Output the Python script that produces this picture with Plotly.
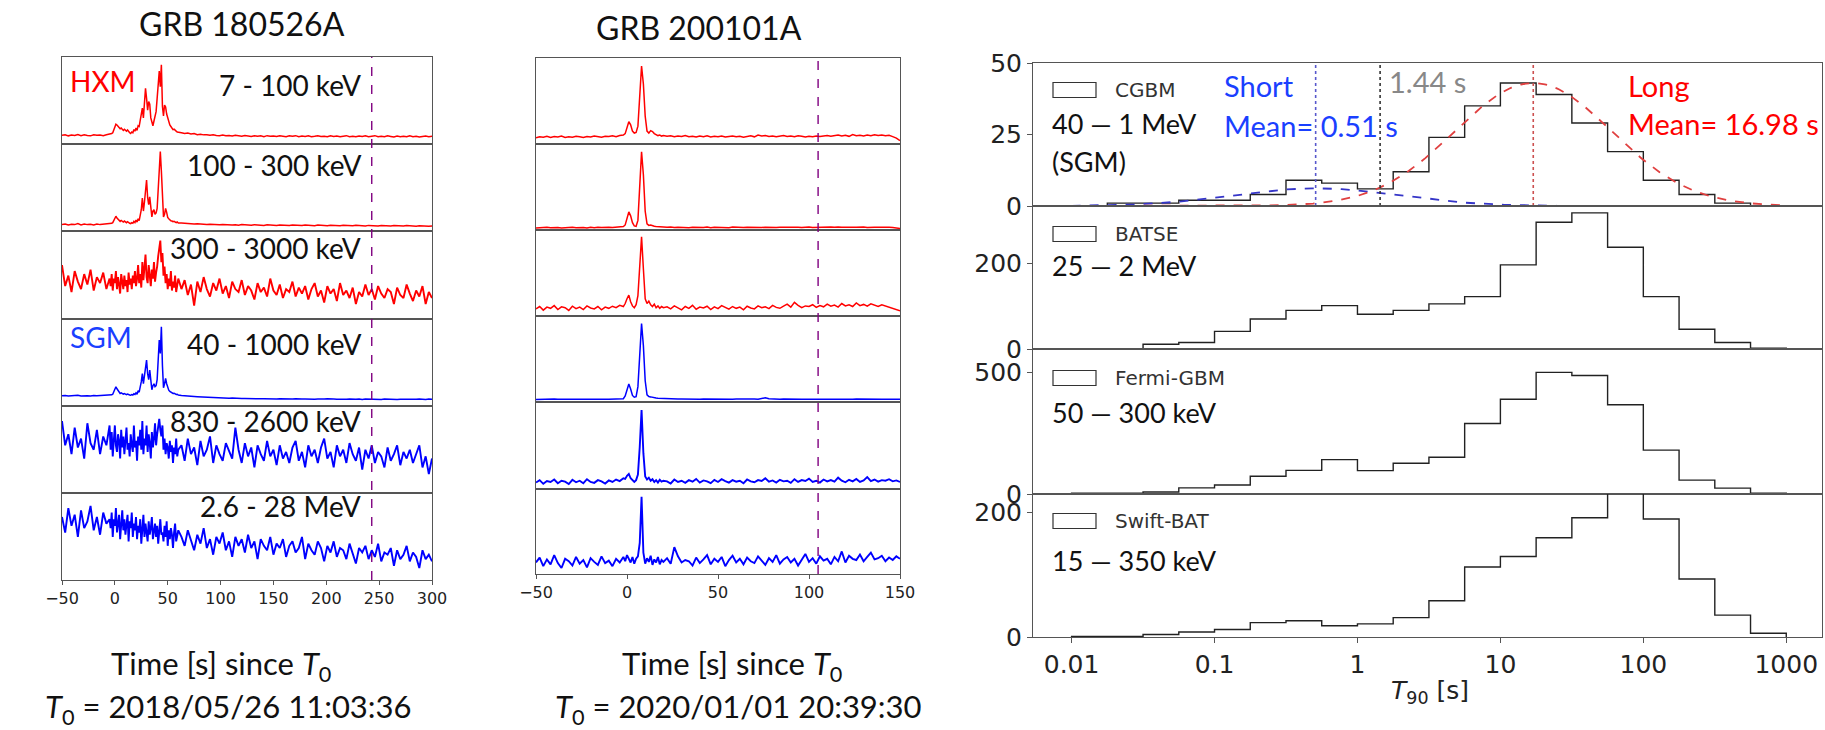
import numpy as np
import plotly.graph_objects as go

W, H = 1825, 730

# ---------------- time grids (s since T0) ----------------
T_LEFT = list(range(-50, -4, 3)) + list(range(-4, 61)) + list(range(63, 301, 3))
T_MID = list(range(-50, -1, 2)) + list(range(-1, 21)) + list(range(22, 151, 2))

# ---------------- GRB 180526A light curves ----------------
HXM_7_100 = ([455,470,440,460,450,475,445,465,450,440,470,455,460,445,470,480] +
    [480,500,520,600,700,740,720,680,650,620,
     640,600,580,610,570,560,590,540,520,500,
     540,520,600,560,640,580,700,680,850,1000,
     1150,900,1300,1660,1400,1100,1320,1250,900,760,
     700,820,1000,1060,1400,1900,2100,1700,2260,1200,
     950,1230,1180,1000,900,800,720,680,640,600,
     610,570,560,540,530] +
    [520,500,510,490,500,470,480,465,470,455,
     470,450,445,460,440,450,435,455,440,430,
     450,440,425,445,430,440,420,445,430,435,
     425,445,430,420,440,430,445,420,435,425,
     440,420,430,445,425,430,415,440,425,435,
     420,430,445,420,430,415,435,425,440,420,
     430,445,415,430,420,440,425,410,435,420,
     430,415,440,420,430,410,425,435,420,430])
HXM_100_300 = ([170,180,165,175,170,185,165,180,170,175,165,180,170,175,185,180] +
    [185,190,200,240,290,300,270,250,230,220,
     235,215,210,225,205,200,215,195,190,185,
     200,190,220,200,240,210,260,230,300,400,
     580,380,520,700,860,590,480,600,420,290,
     380,400,330,350,420,700,1100,1300,1000,500,
     290,330,420,360,280,260,240,230,225,215,
     220,205,200,210,195] +
    [195,190,185,188,180,183,176,178,172,176,
     170,174,168,172,166,170,165,168,162,170,
     164,166,160,168,162,165,158,166,160,163,
     157,165,159,162,156,164,158,161,155,163,
     157,160,154,162,156,159,153,161,155,158,
     152,160,154,157,151,159,153,156,150,158,
     152,155,149,157,151,154,148,156,150,153,
     147,155,149,152,146,154,148,151,145,150])
HXM_300_3000 = ([230,160,195,140,210,175,150,200,165,215,145,190,170,205,150,185] +
    [160,200,145,185,170,210,150,190,165,135,
     200,175,150,195,160,180,140,205,165,185,
     150,195,170,210,160,185,230,170,200,155,
     240,180,215,265,190,170,230,200,160,215,
     185,240,175,205,225,260,300,312,240,270,
     195,225,170,200,150,185,160,210,145,175,
     155,195,140,170,185] +
    [150,180,130,165,95,175,140,190,150,125,
     170,145,185,135,160,120,175,150,140,180,
     130,160,145,115,170,140,155,125,185,145,
     130,165,120,150,140,175,125,155,135,160,
     115,150,170,125,145,105,160,135,150,110,
     170,130,145,120,155,100,140,125,165,130,
     150,115,160,135,120,150,140,100,155,130,
     120,165,135,110,145,125,160,100,140,120])
SGM_40_1000 = ([1100,1120,1090,1110,1100,1130,1095,1115,1105,1090,1120,1100,1110,1095,1120,1130] +
    [1130,1150,1180,1300,1500,1550,1450,1350,1280,1220,
     1250,1200,1180,1210,1170,1160,1190,1150,1140,1130,
     1160,1140,1200,1170,1250,1180,1350,1280,1500,1800,
     2200,1700,2100,2500,2870,2200,1900,2380,1800,1400,
     1600,1700,1550,1600,1900,3300,3870,3200,4520,2600,
     1500,1700,1960,1700,1460,1380,1320,1280,1250,1220,
     1230,1190,1170,1180,1140] +
    [1120,1100,1090,1080,1070,1060,1050,1045,1035,1030,
     1020,1015,1005,1000,995,985,990,975,980,965,
     970,960,965,955,960,950,955,945,960,950,
     940,955,945,935,950,940,955,935,945,940,
     930,950,935,945,925,940,950,930,945,935,
     925,940,930,945,925,935,945,920,940,930,
     945,925,935,920,940,930,925,945,920,935,
     930,940,920,935,925,945,930,920,940,935])
SGM_830_2600 = ([205,150,175,130,190,145,165,120,200,155,140,185,130,170,150,195] +
    [140,180,125,165,195,150,135,175,160,120,
     185,145,170,130,160,190,140,155,125,175,
     150,135,195,145,160,115,170,150,185,140,
     205,130,165,150,195,135,175,155,120,180,
     145,165,200,150,175,190,210,185,170,195,
     140,165,130,155,145,120,160,135,150,110,
     145,130,165,125,140] +
    [150,115,165,130,145,105,160,125,140,170,
     110,150,130,115,155,135,120,190,140,110,
     155,125,145,100,150,130,115,160,125,140,
     105,150,120,135,110,145,160,115,135,100,
     150,125,140,110,145,165,120,135,100,150,
     125,140,110,155,130,115,145,95,140,120,
     150,110,135,125,100,145,115,130,150,105,
     135,120,140,110,130,150,100,125,85,120])
SGM_2600_28000 = ([195,160,215,175,200,150,210,170,185,220,165,195,155,205,180,190] +
    [170,205,150,190,175,215,160,185,200,145,
     180,210,165,190,155,175,200,140,185,170,
     205,150,180,165,195,145,175,160,190,135,
     170,200,150,180,160,140,185,155,170,195,
     145,165,180,150,175,135,170,190,155,160,
     140,175,150,185,130,165,145,170,155,125,
     160,180,140,150,165] +
    [150,130,165,140,120,155,135,170,125,145,
     110,150,135,160,120,140,105,150,130,145,
     115,155,125,140,100,145,130,120,150,110,
     135,125,145,105,130,140,115,125,150,100,
     135,120,110,140,125,95,130,115,140,105,
     125,120,100,135,110,90,125,115,130,100,
     120,105,135,95,115,110,125,85,120,100,
     110,130,95,115,105,80,120,100,110,95])

# ---------------- GRB 200101A light curves ----------------
M_HXM_1 = ([430,470,450,490,440,480,460,500,445,475,455,490,470,440,485,460,500,470,450,490,480,510,470,520,540] +
    [600,800,1080,950,700,620,650,900,2200,3320,2600,1300,700,620,720,680,600,560,520,540,500,520] +
    [490,510,470,500,480,520,470,495,460,500,
     475,510,465,490,470,505,460,485,500,470,
     495,455,480,510,470,540,500,520,480,505,
     470,495,520,480,500,470,510,490,460,495,
     470,505,480,500,520,490,510,540,500,530,
     490,560,510,530,500,540,510,550,520,540,
     510,530,480,420,320])
M_HXM_2 = ([170,190,180,200,175,195,185,170,190,180,200,175,190,185,170,195,180,200,185,175,195,190,200,210,230] +
    [300,600,870,700,400,260,240,500,2000,3500,2500,900,350,280,300,260,240,230,220,210,215,200] +
    [195,205,185,200,190,210,180,195,185,200,
     190,205,180,195,185,200,190,180,205,190,
     195,185,200,190,210,195,185,200,190,205,
     185,195,200,185,210,190,195,185,200,205,
     190,195,210,200,190,205,195,215,200,190,
     210,200,195,215,205,190,210,200,195,205,
     190,200,185,175,150])
M_HXM_3 = ([130,170,110,160,140,185,120,165,150,105,175,135,160,120,180,145,130,170,115,160,140,175,150,190,170] +
    [220,300,360,250,180,150,200,350,900,1330,800,300,220,260,200,170,210,150,180,140,170,150] +
    [165,130,180,145,115,170,140,190,125,160,
     145,175,120,165,135,185,150,125,170,140,
     160,115,175,145,130,180,150,165,135,190,
     155,140,175,210,160,240,190,150,180,170,
     200,155,185,165,210,175,195,160,220,180,
     200,170,230,185,205,175,215,190,170,200,
     180,165,150,130,100])
M_SGM_1 = ([820,850,830,860,840,870,835,855,845,830,865,840,850,835,860,845,870,850,840,865,860,880,870,900,950] +
    [1400,2600,3460,2600,1500,1200,1300,3000,9000,13770,10000,4000,1600,1300,1250,1150,1100,1050,1000,980,950,930] +
    [910,890,900,880,895,870,890,875,880,860,
     885,870,865,880,860,875,850,870,860,880,
     855,870,865,850,875,860,1000,1100,950,880,
     870,860,875,850,865,855,870,845,860,850,
     865,840,870,855,845,860,850,865,840,855,
     860,845,870,850,840,860,855,845,865,850,
     840,860,850,845,830])
M_SGM_2 = ([120,160,100,145,130,170,110,150,135,95,165,125,150,110,175,130,115,160,140,105,155,130,170,145,190] +
    [180,230,260,190,150,130,160,250,700,1305,600,220,170,200,150,175,130,160,120,165,135,150] +
    [140,105,170,130,150,115,160,135,180,120,
     155,140,110,165,130,175,145,120,160,135,
     150,110,170,140,125,160,145,190,135,155,
     120,165,140,150,115,175,130,160,145,185,
     130,150,120,170,140,160,135,200,150,125,
     165,140,180,130,155,210,145,170,135,160,
     150,175,140,155,130])
M_SGM_3 = ([140,180,110,165,125,200,135,95,170,150,115,185,130,160,100,175,145,120,190,135,155,110,170,140,185] +
    [150,200,165,140,185,130,170,190,300,676,220,130,175,145,195,120,165,140,185,125,160,145] +
    [175,130,265,190,140,160,150,115,180,135,
     165,200,125,170,145,185,110,160,195,140,
     170,125,180,150,135,190,155,120,175,145,
     200,130,165,185,140,170,115,160,210,145,
     175,130,190,155,170,125,185,150,230,140,
     195,170,160,205,150,185,220,165,175,195,
     150,180,160,190,170])

LEFT_SERIES = [HXM_7_100, HXM_100_300, HXM_300_3000, SGM_40_1000, SGM_830_2600, SGM_2600_28000]
MID_SERIES = [M_HXM_1, M_HXM_2, M_HXM_3, M_SGM_1, M_SGM_2, M_SGM_3]
SERIES_COLORS = ["#ff0000"] * 3 + ["#0000ff"] * 3
BAND_LABELS = ["7 - 100 keV", "100 - 300 keV", "300 - 3000 keV",
               "40 - 1000 keV", "830 - 2600 keV", "2.6 - 28 MeV"]
LEFT_VLINE = 243
MID_VLINE = 105

LEFT_YRANGES = [[231, 2462], [71, 1418], [50, 344], [596, 4908], [42, 239], [53, 249]]
LEFT_YTICKS = [[1000, 2000], [500, 1000], [100, 200, 300], [2000, 4000], [100, 200], [100, 200]]
MID_YRANGES = [[181, 3645], [79, 3846], [12, 1445], [377, 15060], [15, 1436], [46, 739]]
MID_YTICKS = [[1000, 2000, 3000], [1000, 2000, 3000], [500, 1000], [5000, 10000, 15000], [500, 1000], [250, 500]]
LEFT_XTICKS = [-50, 0, 50, 100, 150, 200, 250, 300]
MID_XTICKS = [-50, 0, 50, 100, 150]

# ---------------- T90 histograms ----------------
BIN_EDGES_LOG = list(np.arange(-2.0, 3.01, 0.25))
CGBM = [0, 1, 1, 2, 2, 4, 9, 8, 6, 12, 24, 35, 43, 39, 29, 19, 9, 4, 1, 0]
BATSE = [0, 0, 11, 15, 41, 70, 90, 101, 81, 90, 105, 122, 196, 295, 317, 237, 122, 46, 15, 2]
FERMI = [3, 3, 8, 25, 37, 73, 97, 141, 96, 126, 151, 289, 389, 499, 486, 366, 180, 57, 24, 3]
SWIFT = [1, 1, 4, 8, 12, 23, 26, 18, 21, 31, 58, 112, 129, 159, 191, 240, 189, 93, 35, 6]
HIST_SERIES = [CGBM, BATSE, FERMI, SWIFT]
HIST_NAMES = ["CGBM", "BATSE", "Fermi-GBM", "Swift-BAT"]
HIST_BANDS = ["40 — 1 MeV", "25 — 2 MeV", "50 — 300 keV", "15 — 350 keV"]
RIGHT_YRANGES = [[0, 50], [0, 333], [0, 595], [0, 229]]
RIGHT_YTICKS = [[0, 25, 50], [0, 200], [0, 500], [0, 200]]
T90_TICKS = [0.01, 0.1, 1, 10, 100, 1000]
T90_TICKTEXT = ["0.01", "0.1", "1", "10", "100", "1000"]

SHORT_FIT = {"amp": 6.2, "mean": 0.51, "sigma_dex": 0.57}
LONG_FIT = {"amp": 43.0, "mean": 16.98, "sigma_dex": 0.55}
DIVIDE_T90 = 1.44

# ---------------- layout geometry (pixels) ----------------
LB = [57, 144, 231, 319, 406, 493, 580]
MB = [58, 144, 230, 316, 402, 489, 574]
RB = [63, 206, 349, 494, 637]
LX = [62, 432]
MX = [536, 900]
RX = [1033, 1822]


def xd(a, b):
    return [a / W, b / W]


def yd(top, bot):
    return [1 - bot / H, 1 - top / H]


def fitlen(vals, n):
    if len(vals) != n:
        print("length mismatch", len(vals), n)
        vals = (list(vals) + [vals[-1]] * n)[:n]
    return vals


fig = go.Figure()
layout = {}
AX = dict(showline=True, mirror=True, linecolor="#555", linewidth=1, showgrid=False,
          zeroline=False, ticks="outside", ticklen=4, tickcolor="#555", automargin=False,
          tickfont=dict(family="DejaVu Sans", size=16, color="#222"))

NOISY = {2, 4, 5}
k = 0
for col, (series, tgrid, bounds, xdom, yranges, yticks, xticks, xr) in enumerate([
        (LEFT_SERIES, T_LEFT, LB, LX, LEFT_YRANGES, LEFT_YTICKS, LEFT_XTICKS, [-50, 300]),
        (MID_SERIES, T_MID, MB, MX, MID_YRANGES, MID_YTICKS, MID_XTICKS, [-50, 150])]):
    for i in range(6):
        k += 1
        y = fitlen(series[i], len(tgrid))
        lw = 1.9 if (col == 0 and i in NOISY) or (col == 1 and i >= 4) else 1.5
        fig.add_trace(go.Scatter(x=tgrid, y=y, mode="lines", xaxis=f"x{k}", yaxis=f"y{k}",
                                 line=dict(color=SERIES_COLORS[i], width=lw), showlegend=False,
                                 hoverinfo="skip"))
        bottom = (i == 5)
        xa = dict(AX, domain=xd(*xdom), range=xr, anchor=f"y{k}")
        if bottom:
            xa.update(tickvals=xticks, ticktext=[str(v).replace("-", "\u2212") for v in xticks])
        else:
            xa.update(showticklabels=False, ticks="")
        ya = dict(AX, domain=yd(bounds[i], bounds[i + 1]), range=yranges[i], tickvals=yticks,
                  anchor=f"x{k}")
        layout[f"xaxis{k}"] = xa
        layout[f"yaxis{k}"] = ya

# right panel: histograms
edges = [10 ** e for e in BIN_EDGES_LOG]
for i in range(4):
    k += 1
    xs, ys = [edges[0]], [0]
    for j, c in enumerate(HIST_SERIES[i]):
        xs += [edges[j], edges[j + 1]]
        ys += [c, c]
    xs.append(edges[-1])
    ys.append(0)
    fig.add_trace(go.Scatter(x=xs, y=ys, mode="lines", xaxis=f"x{k}", yaxis=f"y{k}",
                             line=dict(color="#222", width=1.4), showlegend=False, hoverinfo="skip"))
    xa = dict(AX, domain=xd(*RX), type="log", range=[-2.27, 3.25], anchor=f"y{k}",
              tickfont=dict(family="DejaVu Sans", size=25, color="#222"), ticklen=5)
    if i == 3:
        xa.update(tickvals=T90_TICKS, ticktext=T90_TICKTEXT)
    else:
        xa.update(showticklabels=False, ticks="")
    ya = dict(AX, domain=yd(RB[i], RB[i + 1]), range=RIGHT_YRANGES[i], tickvals=RIGHT_YTICKS[i],
              anchor=f"x{k}", ticklen=5,
              tickfont=dict(family="DejaVu Sans", size=25, color="#222"))
    layout[f"xaxis{k}"] = xa
    layout[f"yaxis{k}"] = ya

# Gaussian fits on CGBM panel (axis 13)
xg = np.logspace(-2, 3, 300)
for fitp, color in [(SHORT_FIT, "#3535c8"), (LONG_FIT, "#e04040")]:
    yg = fitp["amp"] * np.exp(-(np.log10(xg) - np.log10(fitp["mean"])) ** 2 / (2 * fitp["sigma_dex"] ** 2))
    fig.add_trace(go.Scatter(x=xg, y=yg, mode="lines", xaxis="x13", yaxis="y13",
                             line=dict(color=color, width=1.8, dash="dash"), showlegend=False,
                             hoverinfo="skip"))
for xv, color in [(SHORT_FIT["mean"], "#5858cc"), (DIVIDE_T90, "#333333"), (LONG_FIT["mean"], "#cc5050")]:
    fig.add_trace(go.Scatter(x=[xv, xv], y=RIGHT_YRANGES[0], mode="lines", xaxis="x13", yaxis="y13",
                             line=dict(color=color, width=1.6, dash="dot"), showlegend=False,
                             hoverinfo="skip"))

shapes = []
# purple dashed lines
shapes.append(dict(type="line", xref="x6", yref="paper", x0=LEFT_VLINE, x1=LEFT_VLINE,
                   y0=1 - LB[-1] / H, y1=1 - LB[0] / H, line=dict(color="#800080", width=1.4, dash="dash")))
shapes.append(dict(type="line", xref="x12", yref="paper", x0=MID_VLINE, x1=MID_VLINE,
                   y0=1 - MB[-1] / H, y1=1 - MB[0] / H, line=dict(color="#800080", width=1.4, dash="dash")))

ann = []


def A(text, x, y, size, color="#111", xanchor="center", family="Lato"):
    ann.append(dict(text=text, x=x / W, y=1 - y / H, xref="paper", yref="paper", showarrow=False,
                    xanchor=xanchor, yanchor="middle", font=dict(family=family, size=size, color=color)))


A("GRB 180526A", 242, 23, 32)
A("GRB 200101A", 699, 27, 32)
A("HXM", 68, 81, 28, "#ff0000", "left")
A("SGM", 68, 337, 28, "#1a40ff", "left")
BAND_Y = [85, 165, 248, 344, 421, 506]
for lab, yy in zip(BAND_LABELS, BAND_Y):
    A(lab, 363, yy, 28, "#111", "right")
A("Time [s] since <i>T</i><sub>0</sub>", 221, 665, 31)
A("<i>T</i><sub>0</sub> = 2018/05/26 11:03:36", 228, 708, 31)
A("Time [s] since <i>T</i><sub>0</sub>", 732, 665, 31)
A("<i>T</i><sub>0</sub> = 2020/01/01 20:39:30", 738, 708, 31)

# right panel legends and labels
LEG_Y = [90, 234, 378, 521]
for name, yy in zip(HIST_NAMES, LEG_Y):
    shapes.append(dict(type="rect", xref="paper", yref="paper", x0=1053 / W, x1=1096 / W,
                       y0=1 - (yy + 7.5) / H, y1=1 - (yy - 7.5) / H,
                       line=dict(color="#333", width=1.2), fillcolor="white"))
    A(name, 1113, yy, 20, "#333", "left", "DejaVu Sans")
BANDR_Y = [123, 265, 413, 560]
for lab, yy in zip(HIST_BANDS, BANDR_Y):
    A(lab, 1050, yy, 27, "#111", "left")
A("(SGM)", 1050, 162, 27, "#111", "left")
A("Short", 1222, 86, 29, "#1a40ff", "left")
A("Mean= 0.51 s", 1222, 125, 29, "#1a40ff", "left")
A("1.44 s", 1387, 82, 29, "#888888", "left")
A("Long", 1626, 85, 29, "#ff0000", "left")
A("Mean= 16.98 s", 1626, 124, 29, "#ff0000", "left")
A("<i>T</i><sub>90</sub> [s]", 1430, 692, 25, "#222", "center", "DejaVu Sans")

fig.update_layout(width=W, height=H, margin=dict(l=0, r=0, t=0, b=0), paper_bgcolor="white",
                  plot_bgcolor="white", showlegend=False, shapes=shapes, annotations=ann, **layout)
fig.write_html("out.html", config={"displayModeBar": False},
               post_script="document.body.style.margin='0px';document.body.style.overflow='hidden';")
